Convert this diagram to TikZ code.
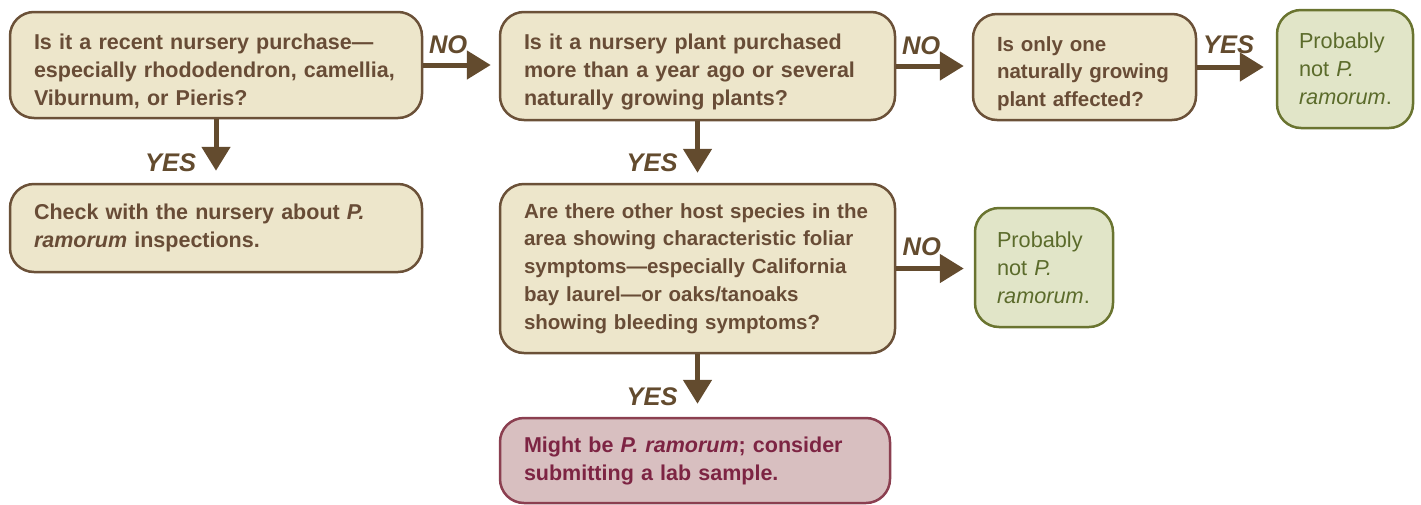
\documentclass[tikz,border=0pt]{standalone}
\usepackage{fontspec}
\setmainfont{Liberation Sans}
\usetikzlibrary{arrows.meta}
\definecolor{qfill}{HTML}{EDE6CB}
\definecolor{qline}{HTML}{6B5138}
\definecolor{qtext}{HTML}{684C36}
\definecolor{arrowc}{HTML}{634B2E}
\definecolor{gfill}{HTML}{E1E5C8}
\definecolor{gline}{HTML}{6A7430}
\definecolor{gtext}{HTML}{5B6B2B}
\definecolor{rfill}{HTML}{D8BFC0}
\definecolor{rline}{HTML}{8B3F50}
\definecolor{rtext}{HTML}{7D2443}
\tikzset{>={Triangle[width=28pt,length=24pt]}}
\tikzset{%
  qbox/.style={draw=qline, fill=qfill, line width=2.5pt, rounded corners=24pt,
    text=qtext, font={\bfseries\fontsize{21.5}{28}\selectfont},
    align=left, inner xsep=24pt, inner ysep=0pt},
  narrow/.style={font={\bfseries\fontsize{20.5}{27.8}\selectfont}},
  lowtext/.style={execute at begin node={\rule{0pt}{28pt}}},
  gbox/.style={qbox, draw=gline, fill=gfill, text=gtext,
    font={\fontsize{21.7}{28}\selectfont}, inner xsep=22pt},
  rbox/.style={qbox, draw=rline, fill=rfill, text=rtext},
  flow/.style={->, draw=arrowc, line width=5pt},
  ans/.style={text=arrowc, font={\bfseries\itshape\fontsize{25.5}{27}\selectfont}}
}
\begin{document}
\begin{tikzpicture}[x=1pt,y=-1pt]

  \useasboundingbox (0,0) rectangle (1421,504);

  % question boxes
  \node[qbox, lowtext, text width=364pt, minimum height=106pt] (q1) at (216,65)
    {Is it a recent nursery purchase---\\especially rhododendron, camellia,\\Viburnum, or Pieris?};
  \node[qbox, lowtext, text width=347pt, minimum height=108pt] (q2) at (697.5,66)
    {Is it a nursery plant purchased\\more than a year ago or several\\naturally growing plants?};
  \node[qbox, narrow, lowtext, text width=175pt, minimum height=106pt] (q3) at (1084.5,67)
    {Is only one\\naturally growing\\plant affected?};
  \node[qbox, narrow, text width=347pt, minimum height=169pt] (q4) at (697.5,268.5)
    {Are there other host species in the\\area showing characteristic foliar\\symptoms---especially California\\bay laurel---or oaks/tanoaks\\showing bleeding symptoms?};

  % answer boxes
  \node[qbox, text width=364pt, minimum height=88pt] (a1) at (216,228)
    {Check with the nursery about \textit{P.}\\\textit{ramorum} inspections.};
  \node[gbox, text width=92pt, minimum height=118pt] (g1) at (1345,69)
    {Probably\\not \textit{P.}\\\textit{ramorum}.};
  \node[gbox, text width=94pt, minimum height=119pt] (g2) at (1044,267.5)
    {Probably\\not \textit{P.}\\\textit{ramorum}.};
  \node[rbox, text width=342pt, minimum height=85pt] (r1) at (695,460.5)
    {Might be \textit{P. ramorum}; consider\\submitting a lab sample.};

  % NO / YES arrows to the right
  \draw[flow, shorten >=8pt] (q1.east) -- node[ans, above=5pt, pos=0.33] {NO} (q1.east -| q2.west);
  \draw[flow, shorten >=8pt] (q2.east) -- node[ans, above=5pt, pos=0.33] {NO} (q2.east -| q3.west);
  \draw[flow, shorten >=12pt] (q3.east) -- node[ans, above=7pt, pos=0.4] {YES} (q3.east -| g1.west);
  \draw[flow, shorten >=10pt] (q4.east) -- node[ans, above=7pt, pos=0.33] {NO} (q4.east -| g2.west);

  % YES arrows down
  \draw[flow, shorten >=12pt] (q1.south) -- node[ans, left=14pt, pos=0.68] {YES} (q1.south |- a1.north);
  \draw[flow, shorten >=10pt] (q2.south) -- node[ans, left=14pt, pos=0.68] {YES} (q2.south |- q4.north);
  \draw[flow, shorten >=13pt] (q4.south) -- node[ans, left=14pt, pos=0.68] {YES} (q4.south |- r1.north);

\end{tikzpicture}
\end{document}
